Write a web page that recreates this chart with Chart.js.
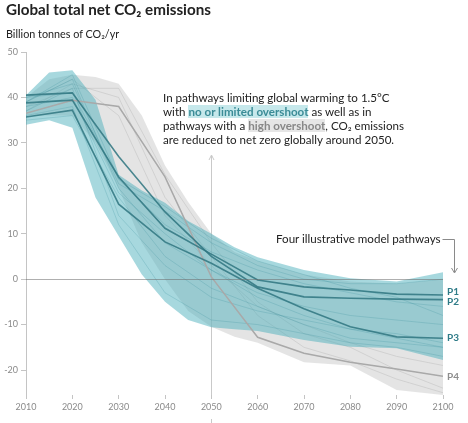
<!DOCTYPE html>
<html>
<head>
<meta charset="utf-8">
<script src="https://cdn.jsdelivr.net/npm/chart.js@4.4.1/dist/chart.umd.min.js"></script>
<style>
  body { margin: 0; background: #fff; font-family: Lato, sans-serif; }
  #wrap { position: relative; width: 468px; height: 423px; }
  #wrap canvas { position: absolute; left: 0; top: 0; }
  .title { position: absolute; left: 6px; top: 0px; font-size: 15.2px; font-weight: bold; color: #222; white-space: nowrap; }
  .subtitle { position: absolute; left: 6px; top: 27px; font-size: 10.8px; color: #222; white-space: nowrap; }
  .note { position: absolute; left: 163px; top: 91px; font-size: 11.6px; line-height: 14px; color: #222; white-space: nowrap; }
  .hl-teal { background: #c6e8eb; color: #3b8c97; font-weight: bold; }
  .hl-grey { background: #e6e6e6; color: #888; font-weight: bold; }
  .paths { position: absolute; left: 276px; top: 232px; font-size: 11.6px; color: #222; white-space: nowrap; }
</style>
</head>
<body>
<div id="wrap">
  <canvas id="co2Chart" width="468" height="423"></canvas>
  <div class="title">Global total net CO₂ emissions</div>
  <div class="subtitle">Billion tonnes of CO₂/yr</div>
  <div class="note">
    In pathways limiting global warming to 1.5°C<br>
    with <span class="hl-teal">no or limited overshoot</span> as well as in<br>
    pathways with a <span class="hl-grey">high overshoot</span>, CO₂ emissions<br>
    are reduced to net zero globally around 2050.
  </div>
  <div class="paths">Four illustrative model pathways</div>
</div>
<script>
// Envelope years (ranges of all pathways)
const envYears = [2010, 2015, 2020, 2025, 2030, 2035, 2040, 2045, 2050, 2055, 2060, 2070, 2080, 2090, 2100];
const tealHigh = [40.5, 45.5, 46, 39.5, 23, 19.5, 16.8, 12.8, 10, 7, 4.8, 2, 0.2, -0.5, 1.5];
const tealLow  = [34, 35, 33.3, 18, 9.5, 1, -5, -9, -10.6, -11, -11.4, -13.4, -14.9, -15.2, -17.8];
const greyHigh = [40, 44, 45, 44.5, 43, 36, 25, 17, 10, 6, 4, 1, -0.5, -1, 0];
const greyLow  = [36, 36, 36, 30, 20, 8, 0, -7, -10.5, -12.7, -14, -18.3, -19, -24.4, -25.5];

// Illustrative pathways
const pathYears = [2010, 2020, 2030, 2040, 2050, 2060, 2070, 2080, 2090, 2100];
const p1 = [38.8, 39.4, 22.5, 11.2, 5.5, -0.2, -1.7, -2.4, -3.3, -3.5];
const p2 = [40.5, 41, 27, 14.8, 5, -1.7, -3.9, -4.2, -4.4, -4.5];
const p3 = [35.7, 37.2, 16.5, 8.2, 3.5, -2, -6.5, -10.5, -12.7, -13];
const p4 = [36.5, 39.4, 38, 22.5, 0.5, -12.8, -16.3, -18.3, -19.8, -21.4];

// Some of the faint individual model runs
const tealRuns = [
    [39, 44, 20, 8, 2, -3, -6, -8, -9, -10],
    [37, 42, 14, 3, -4, -7, -9, -11, -12, -14],
    [40, 43, 21, 15, 8, 3, 0, -1, -1, 0],
    [36, 38, 12, -3, -9, -10, -12, -14, -15, -17],
    [38, 40, 19, 10, 2, -4, -8, -11, -13, -15],
    [39, 45, 22, 12, 6, 2, -1, -3, -5, -6],
    [35, 36, 18, 5, -2, -6, -10, -13, -14, -15],
    [40, 41, 22, 16, 9, 4, 1, -2, -4, -8]
];
const greyRuns = [
    [38, 42, 42, 23, 8, -5, -12, -15, -20, -24],
    [37, 43, 40, 18, 5, -8, -15, -18, -22, -25],
    [39, 44, 36, 14, 3, -6, -10, -14, -17, -19]
];

const yTicks = [-20, -10, 0, 10, 20, 30, 40, 50];
const xTicks = [2010, 2020, 2030, 2040, 2050, 2060, 2070, 2080, 2090, 2100];
const pathLabels = ['P1', 'P2', 'P3', 'P4'];

function pts(xs, ys) {
    return xs.map((x, i) => ({ x: x, y: ys[i] }));
}

function lineSet(xs, ys, color, width, order) {
    return {
        data: pts(xs, ys),
        borderColor: color,
        borderWidth: width,
        pointRadius: 0,
        tension: 0,
        fill: false,
        order: order
    };
}

function initCo2Chart() {
    const datasets = [];

    // grey band (index 0,1)
    datasets.push({ data: pts(envYears, greyHigh), borderWidth: 0, pointRadius: 0, fill: '+1', backgroundColor: 'rgba(205,205,205,0.55)', order: 60 });
    datasets.push({ data: pts(envYears, greyLow), borderWidth: 0, pointRadius: 0, fill: false, order: 60 });
    // teal band (index 2,3)
    datasets.push({ data: pts(envYears, tealHigh), borderWidth: 0, pointRadius: 0, fill: '+1', backgroundColor: 'rgba(72,174,186,0.48)', order: 40 });
    datasets.push({ data: pts(envYears, tealLow), borderWidth: 0, pointRadius: 0, fill: false, order: 40 });

    greyRuns.forEach(r => datasets.push(lineSet(pathYears, r, 'rgba(175,175,175,0.45)', 0.8, 50)));
    tealRuns.forEach(r => datasets.push(lineSet(pathYears, r, 'rgba(50,140,152,0.25)', 0.9, 30)));

    datasets.push(lineSet(pathYears, p4, '#a9a9a9', 1.5, 11));
    datasets.push(lineSet(pathYears, p3, 'rgba(47,118,128,0.85)', 1.6, 10));
    datasets.push(lineSet(pathYears, p2, 'rgba(47,118,128,0.85)', 1.6, 10));
    datasets.push(lineSet(pathYears, p1, 'rgba(47,118,128,0.85)', 1.6, 10));

    const extras = {
        id: 'extras',
        beforeDatasetsDraw(chart) {
            const { ctx, chartArea, scales } = chart;
            const px = Math.round(scales.x.getPixelForValue(2050)) + 0.5;
            ctx.save();
            ctx.strokeStyle = '#c9c9c9';
            ctx.lineWidth = 1;
            ctx.beginPath();
            ctx.moveTo(px, 156);
            ctx.lineTo(px, chartArea.bottom);
            ctx.moveTo(px, 419);
            ctx.lineTo(px, 423);
            ctx.stroke();
            ctx.beginPath();
            ctx.moveTo(px - 2.5, 160);
            ctx.lineTo(px, 155);
            ctx.lineTo(px + 2.5, 160);
            ctx.stroke();
            ctx.restore();
        },
        afterDatasetsDraw(chart) {
            const { ctx, chartArea, scales } = chart;
            const y0 = Math.round(scales.y.getPixelForValue(0)) + 0.5;
            ctx.save();
            // zero line
            ctx.strokeStyle = 'rgba(110,110,110,0.55)';
            ctx.lineWidth = 1;
            ctx.beginPath();
            ctx.moveTo(chartArea.left, y0);
            ctx.lineTo(chartArea.right, y0);
            ctx.stroke();

            // pathway labels at right end
            const ends = [p1, p2, p3, p4].map(a => a[a.length - 1]);
            const nudge = [-3, 2, 0, 0];
            ctx.font = 'bold 10px Lato, sans-serif';
            ctx.textBaseline = 'middle';
            pathLabels.forEach((lab, i) => {
                ctx.fillStyle = i < 3 ? '#2f7c88' : '#8e8e8e';
                ctx.fillText(lab, chartArea.right + 4, scales.y.getPixelForValue(ends[i]) + nudge[i]);
            });

            // connector from "Four illustrative model pathways"
            const cx = chartArea.right + 11.5;
            ctx.strokeStyle = '#8a8a8a';
            ctx.beginPath();
            ctx.moveTo(cx - 12, 239.5);
            ctx.lineTo(cx, 239.5);
            ctx.lineTo(cx, 272);
            ctx.stroke();
            ctx.beginPath();
            ctx.moveTo(cx - 3, 268);
            ctx.lineTo(cx, 273);
            ctx.lineTo(cx + 3, 268);
            ctx.stroke();
            ctx.restore();
        }
    };

    const tickFont = { family: 'Lato, sans-serif', size: 9 };

    new Chart(document.getElementById('co2Chart').getContext('2d'), {
        type: 'line',
        data: { datasets: datasets },
        options: {
            responsive: false,
            animation: false,
            layout: { padding: { top: 52, right: 25, bottom: 0, left: 0 } },
            plugins: {
                legend: { display: false },
                tooltip: { enabled: false }
            },
            scales: {
                x: {
                    type: 'linear',
                    min: 2010,
                    max: 2100,
                    afterFit: s => { s.height = 28; },
                    afterBuildTicks: s => { s.ticks = xTicks.map(v => ({ value: v })); },
                    border: { display: false },
                    grid: { drawOnChartArea: false, drawTicks: true, tickLength: 4, color: '#c4c4c4' },
                    ticks: { color: '#8a8a8a', font: tickFont, padding: 3, maxRotation: 0, callback: v => String(v) }
                },
                y: {
                    type: 'linear',
                    min: -25.5,
                    max: 50,
                    afterFit: s => { s.width = 26; },
                    afterBuildTicks: s => { s.ticks = yTicks.map(v => ({ value: v })); },
                    border: { display: true, color: '#c4c4c4' },
                    grid: { drawOnChartArea: false, drawTicks: true, tickLength: 5, color: '#c4c4c4' },
                    ticks: { color: '#8a8a8a', font: tickFont, padding: 3 }
                }
            }
        },
        plugins: [extras]
    });
}

initCo2Chart();
</script>
</body>
</html>
